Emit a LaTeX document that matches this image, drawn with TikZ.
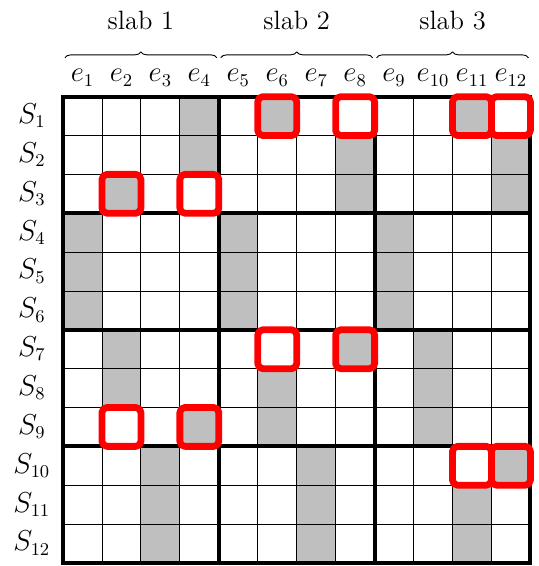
\documentclass[tikz,border=0pt]{standalone}
\usetikzlibrary{decorations.pathreplacing}

\begin{document}
\begin{tikzpicture}[x=0.5pt, y=-0.5pt, line join=round,
    font=\fontsize{13.25}{16}\selectfont]
  % 样式: 格线粗细 / 红框 / 花括号（画布按像素的一半计）
  \tikzset{
    thingrid/.style={line width=0.45pt},
    slabline/.style={line width=2pt, line cap=rect},
    hitbox/.style={draw=red, line width=3.4pt, rounded corners=2.5pt},
    slabbrace/.style={decorate, decoration={brace, amplitude=3pt}, line width=0.45pt},
  }
  \def\shade{gray!50}

  % 钉死画布
  \path[use as bounding box] (0,0) rectangle (539,566);

  % 网格坐标系: 一格 = 1 单位, 原点在左上角
  \begin{scope}[shift={(63,96.7)}, x=19.475pt, y=-19.425pt]

    % ════ 灰格（列/行）════
    \foreach \c/\r in {4/1, 6/1, 11/1,
                       4/2, 8/2, 12/2,
                       2/3, 8/3, 12/3,
                       1/4, 5/4, 9/4,
                       1/5, 5/5, 9/5,
                       1/6, 5/6, 9/6,
                       2/7, 8/7, 10/7,
                       2/8, 6/8, 10/8,
                       4/9, 6/9, 10/9,
                       3/10, 7/10, 12/10,
                       3/11, 7/11, 11/11,
                       3/12, 7/12, 11/12}
      \fill[\shade] (\c-1,\r-1) rectangle (\c,\r);

    % ════ 细格线 ════
    \foreach \k in {0,...,12}{%
      \draw[thingrid] (\k,0) -- (\k,12);
      \draw[thingrid] (0,\k) -- (12,\k);}

    % ════ 分块粗线（列每 4 格, 行每 3 格）════
    \foreach \k in {0,4,8,12}
      \draw[slabline] (\k,0) -- (\k,12);
    \foreach \k in {0,3,6,9,12}
      \draw[slabline] (0,\k) -- (12,\k);

    % ════ 红框 ════
    \foreach \c/\r in {6/1, 8/1, 11/1, 12/1,
                       2/3, 4/3,
                       6/7, 8/7,
                       2/9, 4/9,
                       11/10, 12/10}
      \draw[hitbox] (\c-1,\r-1) rectangle (\c,\r);

    % ════ 列标 e_i / 行标 S_i ════
    \foreach \c in {1,...,12}
      \node[anchor=base, inner sep=0pt] (e\c) at (\c-0.5,-0.38) {$e_{\c}$};
    \foreach \r in {1,...,12}
      \node[anchor=base, inner sep=0pt] (S\r) at (-0.8,\r-0.31) {$S_{\r}$};

    % ════ slab 花括号与标题 ════
    \foreach \s in {1,2,3}{%
      \draw[slabbrace] ({4*\s-3.95},-1) -- ({4*\s-0.05},-1);
      \node[anchor=base, inner sep=0pt] (slab\s) at ({4*\s-2},-1.717) {slab \s};}
  \end{scope}
\end{tikzpicture}
\end{document}
